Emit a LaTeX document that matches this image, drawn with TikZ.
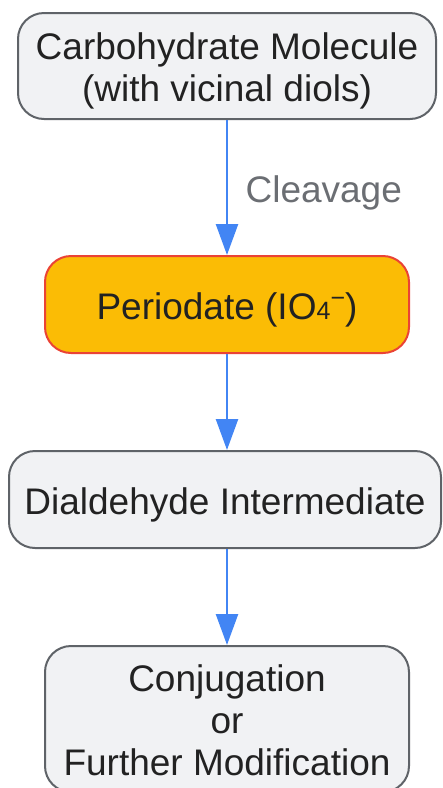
\documentclass[tikz,border=0pt]{standalone}
\usepackage{fontspec}
\setmainfont{Liberation Sans}
\usetikzlibrary{arrows.meta}
\definecolor{boxfill}{HTML}{F1F2F4}
\definecolor{boxdraw}{HTML}{5F6368}
\definecolor{txt}{HTML}{222222}
\definecolor{arrowc}{HTML}{4285F4}
\definecolor{periofill}{HTML}{FBBC05}
\definecolor{periodraw}{HTML}{EA4335}
\definecolor{lblc}{HTML}{6B6E73}
\newcommand\boxlines[1]{\raisebox{-6.3pt}[\height][\depth]{\begin{tabular}{@{}c@{}}#1\end{tabular}}}
\tikzset{
  x=1pt,y=-1pt,
  flowbox/.style={draw=boxdraw, fill=boxfill, line width=2pt, rounded corners=26pt,
    text=txt, inner sep=0pt,
    font=\fontsize{37}{42}\selectfont},
  periobox/.style={flowbox, draw=periodraw, fill=periofill},
  flowarrow/.style={draw=arrowc, line width=2.5pt, -{Triangle[length=31pt,width=22pt]}},
}
\begin{document}
\begin{tikzpicture}
\useasboundingbox (0,0) rectangle (443,788);
\node[flowbox, minimum width=418pt, minimum height=106pt] (b1) at (227,66)
  {\boxlines{Carbohydrate Molecule\\(with vicinal diols)}};
\node[periobox, minimum width=364pt, minimum height=97pt] (b2) at (227,304.5)
  {\boxlines{Periodate (IO{\fontsize{25}{25}\selectfont 4}\raisebox{0.35em}{\fontsize{25}{25}\selectfont −})}};
\node[flowbox, minimum width=432pt, minimum height=97pt] (b3) at (225,499.5)
  {\boxlines{Dialdehyde Intermediate}};
\node[flowbox, minimum width=364pt, minimum height=146pt] (b4) at (227,719)
  {\boxlines{Conjugation\\or\\Further Modification}};
\draw[flowarrow] (b1.south) -- (b2.north)
  node[midway, right=14pt, yshift=-5.5pt, text=lblc, font=\fontsize{37}{42}\selectfont] (lbl) {Cleavage};
\draw[flowarrow] (b2.south) -- (b2.south |- b3.north);
\draw[flowarrow] (b2.south |- b3.south) -- (b4.north);
\end{tikzpicture}
\end{document}
